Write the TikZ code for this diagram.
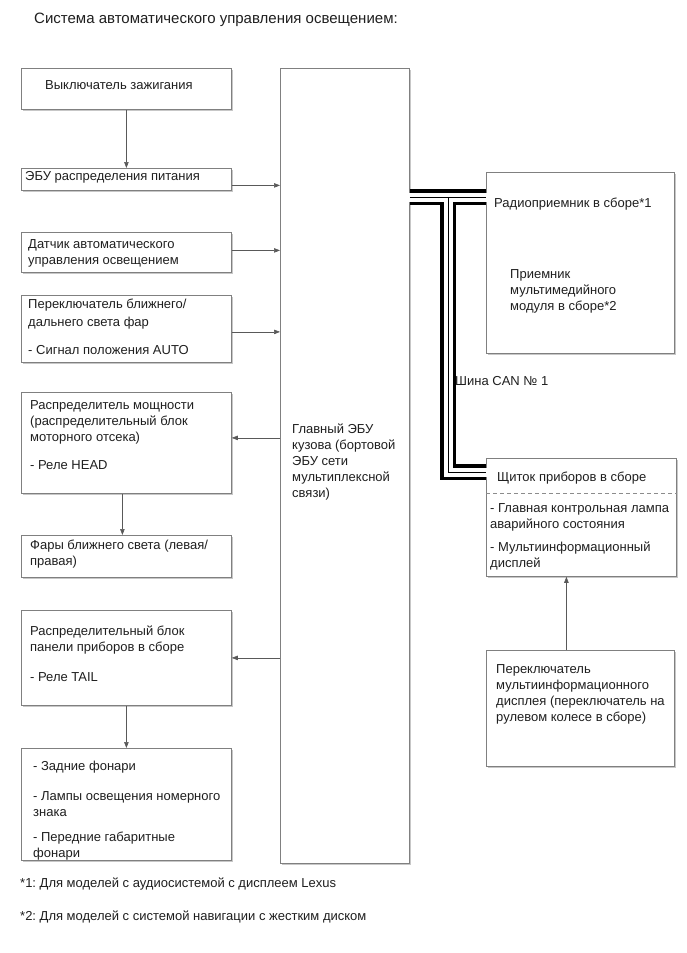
\documentclass[tikz,border=0pt]{standalone}
\usepackage{fontspec}
\setmainfont{Liberation Sans}
\usetikzlibrary{shadows,arrows.meta}
\frenchspacing
\begin{document}
\begin{tikzpicture}[x=1pt,y=-1pt,
 box/.style={draw=black!50, line width=0.8pt, fill=white, anchor=north west, inner sep=0pt,
   drop shadow={shadow xshift=1.2pt, shadow yshift=-1.2pt, fill=black!22, opacity=1}},
 txt/.style={anchor=north west, align=left, inner sep=0pt, yshift=-3pt, font=\fontsize{13}{16}\selectfont\frenchspacing, text=black!88},
 arr/.style={draw=black!65, line width=0.6pt, -{Triangle[length=6pt,width=4.5pt]}},
]
\useasboundingbox[fill=white] (0,0) rectangle (686,953);

\node[anchor=north west, inner sep=0pt, font=\fontsize{15}{18}\selectfont, text=black!88] (title) at (34,13) {Система автоматического управления освещением:};

% left boxes
\node[box, minimum width=210pt, minimum height=41pt] (b1) at (21,68) {};
\node[box, minimum width=210pt, minimum height=22pt] (b2) at (21,168) {};
\node[box, minimum width=210pt, minimum height=40pt] (b3) at (21,232) {};
\node[box, minimum width=210pt, minimum height=67pt] (b4) at (21,295) {};
\node[box, minimum width=210pt, minimum height=101pt] (b5) at (21,392) {};
\node[box, minimum width=210pt, minimum height=42pt] (b6) at (21,535) {};
\node[box, minimum width=210pt, minimum height=95pt] (b7) at (21,610) {};
\node[box, minimum width=210pt, minimum height=112pt] (b8) at (21,748) {};
% ECU
\node[box, minimum width=129pt, minimum height=795pt] (ecu) at (280,68) {};
% right boxes
\node[box, minimum width=188pt, minimum height=181pt] (radio) at (486,172) {};
\node[box, minimum width=190pt, minimum height=118pt] (clu) at (486,458) {};
\node[box, minimum width=188pt, minimum height=116pt] (mfs) at (486,650) {};

% texts
\node[txt] (t1) at (45,77) {Выключатель зажигания};
\node[txt] (t2) at (25,168) {ЭБУ распределения питания};
\node[txt] (t3) at (28,236) {Датчик автоматического\\управления освещением};
\node[txt] (t4) at (28,296) {Переключатель ближнего/\\[2pt]дальнего света фар\\[12pt]- Сигнал положения AUTO};
\node[txt] (t5) at (30,397) {Распределитель мощности\\(распределительный блок\\моторного отсека)\\[12pt] - Реле HEAD};
\node[txt] (t6) at (30,537) {Фары ближнего света (левая/\\правая)};
\node[txt] (t7) at (30,623) {Распределительный блок\\панели приборов в сборе\\[14pt] - Реле TAIL};
\node[txt] (t8) at (33,758) {- Задние фонари\\[14pt]- Лампы освещения номерного\\знака\\[9pt]- Передние габаритные\\фонари};
\node[txt] (tecu) at (292,421) {Главный ЭБУ\\кузова (бортовой\\ЭБУ сети\\мультиплексной\\связи)};
\node[txt] (tr1) at (494,195) {Радиоприемник в сборе*1};
\node[txt] (tr2) at (510,266) {Приемник\\мультимедийного\\модуля в сборе*2};
\node[txt] (tcan) at (455,373) {Шина CAN № 1};
\node[txt] (tc1) at (497,469) {Щиток приборов в сборе};
\node[txt] (tc2) at (490,500) {- Главная контрольная лампа\\аварийного состояния};
\node[txt] (tc3) at (490,539) {- Мультиинформационный\\дисплей};
\node[txt] (tm) at (496,661) {Переключатель\\мультиинформационного\\дисплея (переключатель на\\рулевом колесе в сборе)};
\node[txt] (f1) at (20,875) {*1: Для моделей с аудиосистемой с дисплеем Lexus};
\node[txt] (f2) at (20,908) {*2: Для моделей с системой навигации с жестким диском};

% dashed separator in cluster
\draw[black!45, line width=0.6pt, dash pattern=on 4pt off 3pt] ([yshift=-35pt]clu.north west) -- ([yshift=-35pt]clu.north east);

% arrows
\draw[arr] (b1.south) -- (b2.north);
\draw[arr] ([yshift=-6pt]b2.east) -- ([yshift=-6pt]b2.east -| ecu.west);
\draw[arr] ([yshift=2pt]b3.east) -- ([yshift=2pt]b3.east -| ecu.west);
\draw[arr] ([yshift=-3pt]b4.east) -- ([yshift=-3pt]b4.east -| ecu.west);
\draw[arr] ([yshift=5pt]b5.east -| ecu.west) -- ([yshift=5pt]b5.east);
\draw[arr] ([xshift=-4pt]b5.south) -- ([xshift=-4pt]b6.north);
\draw[arr] (b7.east -| ecu.west) -- (b7.east);
\draw[arr] (b7.south) -- (b8.north);
\draw[arr] ([xshift=-14pt]mfs.north) -- ([xshift=-14pt]mfs.north |- clu.south);

% CAN bus cable
\coordinate (cj) at (448,197);
\coordinate (cc) at (448,472);
\draw[black, line width=16pt] (ecu.east |- cj) -- (radio.west |- cj) (cj) -- (cc) -- (clu.west |- cc);
\draw[white, line width=9pt] ([xshift=-1pt]ecu.east |- cj) -- ([xshift=1pt]radio.west |- cj) (cj) -- (cc) -- ([xshift=1pt]clu.west |- cc);
\draw[black, line width=1pt] (ecu.east |- cj) -- (radio.west |- cj) (cj) -- (cc) -- (clu.west |- cc);
\end{tikzpicture}
\end{document}
